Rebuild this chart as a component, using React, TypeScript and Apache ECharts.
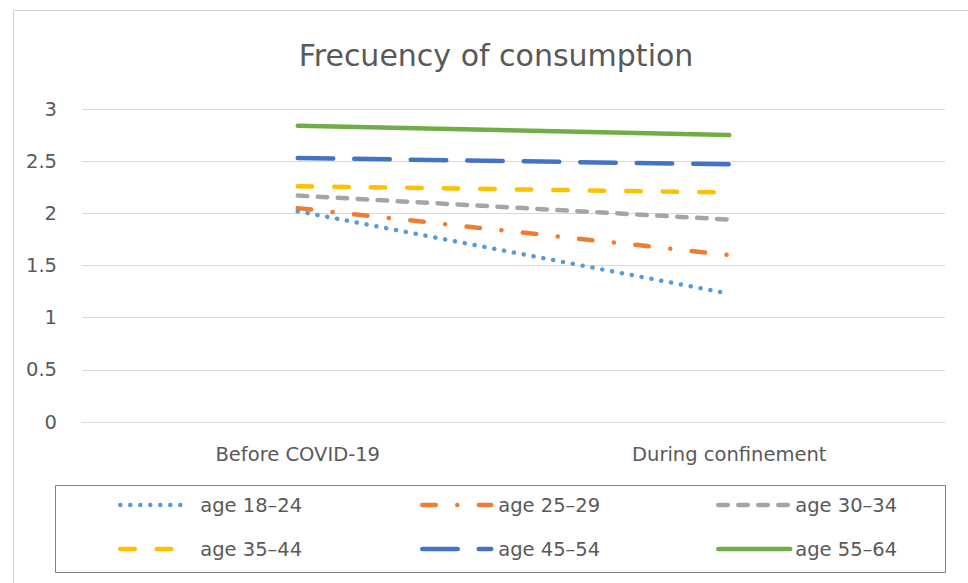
import React, { useEffect, useRef } from "react";
import * as echarts from "echarts";

const categories = ["Before COVID-19", "During confinement"];
const seriesNames = ["age 18–24", "age 25–29", "age 30–34", "age 35–44", "age 45–54", "age 55–64"];
const age18_24 = [2.02, 1.23];
const age25_29 = [2.05, 1.6];
const age30_34 = [2.17, 1.94];
const age35_44 = [2.26, 2.2];
const age45_54 = [2.53, 2.47];
const age55_64 = [2.84, 2.75];
const yTicks = { min: 0, max: 3, interval: 0.5 };

const colors = ["#5B9BD5", "#ED7D31", "#A5A5A5", "#FFC000", "#4472C4", "#70AD47"];
const dashes: any[] = [
  [0.1, 9.9],
  [13.5, 21.5, 0.1, 21.5],
  [9.5, 10.5],
  [14.5, 22],
  [35.5, 21],
  "solid",
];
const values = [age18_24, age25_29, age30_34, age35_44, age45_54, age55_64];

const FONT = "DejaVu Sans";
const FS = 19.5;

export default function App() {
  const ref = useRef<HTMLDivElement>(null);
  useEffect(() => {
    document.body.style.margin = "0";
    const chart = echarts.init(ref.current!, undefined, { renderer: "svg" });
    // [left, top, iconWidth, textPadLeft]
    const legendPos = [
      [118, 495, 68, 7],
      [420, 495, 69, 2],
      [716, 495, 72, 0],
      [118, 539, 68, 7],
      [420, 539, 69, 2],
      [716, 539, 72, 0],
    ];
    chart.setOption({
      animation: false,
      backgroundColor: "#ffffff",
      title: {
        text: "Frecuency of consumption",
        left: 491,
        textAlign: "center",
        top: 35,
        textStyle: { fontFamily: FONT, fontSize: 30, fontWeight: "normal", color: "#595959" },
      },
      grid: { left: 82, right: 23, top: 109, bottom: 161, containLabel: false },
      xAxis: {
        type: "category",
        data: categories,
        boundaryGap: true,
        axisLine: { lineStyle: { color: "#d9d9d9", width: 1 } },
        axisTick: { show: false },
        axisLabel: { color: "#595959", fontFamily: FONT, fontSize: FS, margin: 22 },
      },
      yAxis: {
        type: "value",
        min: yTicks.min,
        max: yTicks.max,
        interval: yTicks.interval,
        axisLine: { show: false },
        axisTick: { show: false },
        splitLine: { lineStyle: { color: "#d9d9d9", width: 1 } },
        axisLabel: { color: "#595959", fontFamily: FONT, fontSize: FS, margin: 25 },
      },
      legend: seriesNames.map((n, i) => ({
        data: [n],
        left: legendPos[i][0],
        top: legendPos[i][1],
        itemWidth: legendPos[i][2],
        itemHeight: 16,
        itemGap: 0,
        padding: 0,
        itemStyle: { opacity: 0 },
        lineStyle: { width: 4.5 },
        textStyle: {
          color: "#595959",
          fontFamily: FONT,
          fontSize: FS,
          padding: [0, 0, 0, legendPos[i][3]],
        },
      })),
      graphic: [
        {
          type: "rect",
          shape: { x: 13.5, y: 10.5, width: 980, height: 600 },
          style: { fill: "none", stroke: "#d0d0d0", lineWidth: 1 },
          silent: true,
        },
        {
          type: "rect",
          shape: { x: 55.5, y: 485.5, width: 890, height: 87 },
          style: { fill: "none", stroke: "#7f7f7f", lineWidth: 1 },
          silent: true,
        },
      ],
      series: seriesNames.map((n, i) => ({
        name: n,
        type: "line",
        data: values[i],
        symbol: "none",
        color: colors[i],
        lineStyle: { color: colors[i], width: 4.5, type: dashes[i], cap: "round" },
        z: 10 - i,
      })),
    });
    return () => chart.dispose();
  }, []);
  return <div ref={ref} style={{ width: 968, height: 583 }} />;
}
